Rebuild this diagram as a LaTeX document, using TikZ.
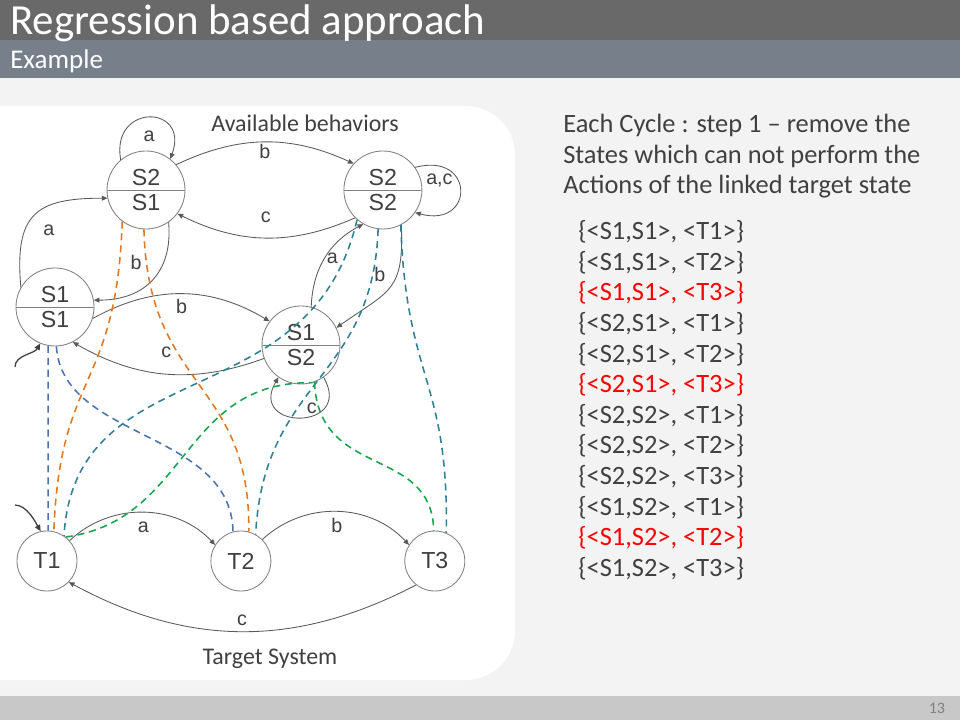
\documentclass[tikz,border=0pt]{standalone}
\usepackage{fontspec}
\setmainfont{Carlito}
\newfontfamily\diagfont{Liberation Sans}
\usetikzlibrary{positioning, shapes, arrows.meta, calc}

\definecolor{titlegray}{HTML}{696969}
\definecolor{subgray}{HTML}{767F8A}
\definecolor{slidebg}{HTML}{F3F3F3}
\definecolor{footgray}{HTML}{C8C8C8}
\definecolor{textgray}{HTML}{404040}
\definecolor{edgegray}{HTML}{595959}
\definecolor{circgray}{HTML}{808080}
\definecolor{linkblue}{HTML}{4A72B0}
\definecolor{linkorange}{HTML}{E4761E}
\definecolor{linkteal}{HTML}{2F7F97}
\definecolor{linkgreen}{HTML}{12A54A}
\definecolor{removed}{HTML}{FF0000}

\begin{document}
\begin{tikzpicture}[
    x=0.025cm, y=0.025cm,
    node distance=1cm and 2.5cm,
    bstate/.style={circle split, draw=circgray, line width=0.6pt, minimum size=1.95cm, inner sep=2.5pt, font=\diagfont\fontsize{16.5}{18}\selectfont, text=textgray},
    tstate/.style={circle, draw=circgray, line width=0.6pt, minimum size=1.5cm, inner sep=1pt, font=\diagfont\fontsize{16.5}{18}\selectfont, text=textgray},
    myarrow/.style={draw=edgegray, line width=0.6pt, -{Triangle[length=4pt, width=3.5pt]}},
    initarrow/.style={draw=black!75, line width=0.9pt, -{Triangle[length=4.5pt, width=4pt]}},
    lbl/.style={font=\diagfont\fontsize{14}{16}\selectfont, text=textgray, inner sep=1pt},
    link/.style={line width=1.1pt, dash pattern=on 5pt off 3.5pt},
    caption/.style={font=\fontsize{17}{19}\selectfont, text=textgray},
    slidetext/.style={font=\fontsize{18.8}{21.8}\selectfont, text=textgray, align=left, inner sep=0pt, anchor=north west}
]

    \useasboundingbox (0,0) rectangle (960,-720);

    % slide background
    \fill[slidebg] (0,0) rectangle (960,-720);
    \fill[white, rounded corners=35] (-60,-106) rectangle (515,-680);
    \fill[titlegray] (0,0) rectangle (960,-40);
    \fill[subgray] (0,-40) rectangle (960,-78);
    \fill[footgray] (0,-696) rectangle (960,-720);

    \node[anchor=base west, text=white, font=\fontsize{30.5}{32}\selectfont, inner sep=0pt] (title) at (10,-35) {Regression based approach};
    \node[anchor=base west, text=white, font=\fontsize{19.2}{21}\selectfont, inner sep=0pt] (subtitle) at (10,-69) {Example};
    \node[anchor=east, text=black!50, font=\fontsize{11.4}{12}\selectfont] (pagenum) at (950,-708) {13};

    % available behaviors
    \node[bstate] (s21) at (146,-190) {S2 \nodepart{lower} S1};
    \node[bstate, right=3.95cm of s21] (s22) {S2 \nodepart{lower} S2};
    \node[bstate] (s11) at (55,-307) {S1 \nodepart{lower} S1};
    \node[bstate] (s12) at (301,-345) {S1 \nodepart{lower} S2};
    \node[caption] (behav) at (305,-123) {Available behaviors};

    % target system
    \node[tstate] (t1) at (47,-561) {T1};
    \node[tstate, right=3.325cm of t1] (t2) {T2};
    \node[tstate, right=3.325cm of t2] (t3) {T3};
    \node[caption] (target) at (270,-659) {Target System};

    \draw[myarrow] (s21.130) .. controls +(100:58) and +(70:58) .. node[lbl, below=0.28cm] {a} (s21.52);
    \draw[myarrow] (s21.40) to[bend left=25] node[lbl, below] {b} (s22.138);
    \draw[myarrow] (s22.225) to[bend left=25] node[lbl, above=0.33cm] {c} (s21.-37);
    \draw[myarrow] (s22.35) .. controls +(15:62) and +(-15:62) .. node[lbl, pos=0.3, below left, inner sep=0pt] {a,c} (s22.-35);
    \draw[myarrow] (s11.150) to[out=95, in=180, looseness=1.5] node[lbl, below right=0.25cm] {a} (s21.192);
    \draw[myarrow] (s21.-55) to[out=-85, in=0, looseness=1.2] node[lbl, above left=0.3cm] {b} (s11.10);
    \draw[myarrow] (s11.-17) to[bend left=30] node[lbl, below=0.08cm] {b} (s12.143);
    \draw[myarrow] (s12.200) to[bend left=25] node[lbl, above=0.35cm] {c} (s11.-63);
    \draw[myarrow] (s12.75) to[bend left=30] node[lbl, right] {a} (s22.240);
    \draw[myarrow] (s22.-62) to[out=-88, in=35, looseness=1.4] node[lbl, pos=0.35, left=0.25cm] {b} (s12.26);
    \draw[myarrow] (s12.-55) .. controls +(-60:62) and +(-120:62) .. node[lbl, pos=0.35, above left, inner sep=0pt] {c} (s12.-125);

    \draw[myarrow] (t1.42) to[bend left=45] node[lbl, below=0.18cm] {a} (t2.148);
    \draw[myarrow] (t2.45) to[bend left=45] node[lbl, below=0.12cm] {b} (t3.148);
    \draw[myarrow] (t3.232) to[bend left=28] node[lbl, above=0.1cm] {c} (t1.-44);

    \coordinate (init1) at (15,-367);
    \coordinate (init2) at (15,-505);
    \draw[initarrow] (init1) .. controls +(90:12) and +(-120:12) .. (s11.-112);
    \draw[initarrow] (init2) .. controls +(0:12) and +(120:10) .. (t1.102);

    % links between behaviors and target states
    \draw[link, linkblue] (s11.-100) -- (t1.88);
    \draw[link, linkblue] (s11.-88) .. controls +(6,-94) and +(-2,102) .. (t2.105);
    \draw[link, linkorange] (s21.-127) .. controls +(-6,-170) and +(6,162) .. (t1.77);
    \draw[link, linkorange] (s21.-93) .. controls +(4,-161) and +(2,152) .. (t2.75);
    \draw[link, linkteal] (s22.-131) .. controls +(-46,-200) and +(11,186) .. (t1.56);
    \draw[link, linkteal] (s22.-97) .. controls +(-5,-151) and +(8,155) .. (t2.61);
    \draw[link, linkteal] (s22.-63) .. controls +(5,-155) and +(3,153) .. (t3.68);
    \draw[link, linkgreen] (t1.52) .. controls +(124,17) and +(-132,2) .. (s12.-73);
    \draw[link, linkgreen] (s12.-70) .. controls +(4,-98) and +(-2,86) .. (t3.92);

    % explanation
    \node[slidetext] (step) at (563,-114) {Each Cycle : step 1 -- remove the\\States which can not perform the\\Actions of the linked target state};
    \node[slidetext] (pairs) at (578,-220) {%
        \{<S1,S1>, <T1>\}\\
        \{<S1,S1>, <T2>\}\\
        \textcolor{removed}{\{<S1,S1>, <T3>\}}\\
        \{<S2,S1>, <T1>\}\\
        \{<S2,S1>, <T2>\}\\
        \textcolor{removed}{\{<S2,S1>, <T3>\}}\\
        \{<S2,S2>, <T1>\}\\
        \{<S2,S2>, <T2>\}\\
        \{<S2,S2>, <T3>\}\\
        \{<S1,S2>, <T1>\}\\
        \textcolor{removed}{\{<S1,S2>, <T2>\}}\\
        \{<S1,S2>, <T3>\}};

\end{tikzpicture}
\end{document}
